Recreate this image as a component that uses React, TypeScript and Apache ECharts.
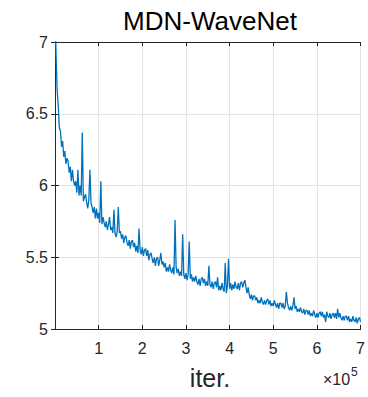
import React, { useEffect, useRef } from "react";
import * as echarts from "echarts";

const TITLE = "MDN-WaveNet";
const X_NAME = "iter.";
const X_MIN = 0;
const X_MAX = 700000;
const X_INTERVAL = 100000;
const Y_MIN = 5;
const Y_MAX = 7;
const Y_INTERVAL = 0.5;
const ITER_STEP = 2500;

const loss = [
  7.30, 6.90, 6.66, 6.55, 6.40, 6.38, 6.27, 6.31, 6.20, 6.24,
  6.15, 6.19, 6.17, 6.09, 6.13, 6.03, 6.11, 6.03, 6.00, 6.03,
  5.95, 6.11, 5.93, 6.00, 5.93, 6.37, 5.89, 5.92, 5.94, 5.88,
  5.84, 5.90, 6.11, 5.88, 5.85, 5.81, 5.85, 5.77, 5.84, 5.77,
  5.81, 5.74, 6.03, 5.73, 5.78, 5.74, 5.71, 5.75, 5.69, 5.73,
  5.78, 5.69, 5.71, 5.67, 5.83, 5.67, 5.64, 5.68, 5.85, 5.67,
  5.68, 5.63, 5.66, 5.60, 5.64, 5.65, 5.60, 5.58, 5.62, 5.56,
  5.61, 5.62, 5.57, 5.60, 5.54, 5.58, 5.53, 5.70, 5.55, 5.52,
  5.57, 5.51, 5.55, 5.56, 5.51, 5.55, 5.48, 5.52, 5.53, 5.49,
  5.46, 5.50, 5.44, 5.49, 5.50, 5.44, 5.48, 5.53, 5.45, 5.47,
  5.43, 5.46, 5.40, 5.43, 5.40, 5.45, 5.41, 5.39, 5.43, 5.38,
  5.76, 5.43, 5.39, 5.42, 5.37, 5.40, 5.37, 5.66, 5.38, 5.35,
  5.39, 5.34, 5.38, 5.61, 5.35, 5.38, 5.33, 5.36, 5.33, 5.37,
  5.33, 5.31, 5.35, 5.30, 5.35, 5.36, 5.32, 5.35, 5.30, 5.33,
  5.30, 5.44, 5.31, 5.29, 5.33, 5.28, 5.32, 5.33, 5.29, 5.36,
  5.27, 5.30, 5.27, 5.32, 5.28, 5.26, 5.46, 5.25, 5.30, 5.49,
  5.28, 5.32, 5.27, 5.31, 5.28, 5.33, 5.29, 5.28, 5.32, 5.27,
  5.32, 5.33, 5.29, 5.32, 5.34, 5.29, 5.25, 5.29, 5.24, 5.21,
  5.24, 5.20, 5.23, 5.23, 5.20, 5.22, 5.18, 5.20, 5.18, 5.22,
  5.19, 5.17, 5.20, 5.17, 5.20, 5.21, 5.17, 5.20, 5.16, 5.18,
  5.16, 5.20, 5.17, 5.15, 5.18, 5.14, 5.18, 5.18, 5.15, 5.18,
  5.14, 5.16, 5.26, 5.18, 5.15, 5.13, 5.16, 5.13, 5.16, 5.22,
  5.14, 5.16, 5.12, 5.14, 5.12, 5.15, 5.12, 5.11, 5.14, 5.10,
  5.13, 5.13, 5.10, 5.13, 5.09, 5.11, 5.09, 5.13, 5.10, 5.08,
  5.11, 5.08, 5.11, 5.12, 5.09, 5.12, 5.08, 5.10, 5.05, 5.12,
  5.09, 5.08, 5.11, 5.07, 5.10, 5.11, 5.08, 5.11, 5.07, 5.14,
  5.08, 5.11, 5.08, 5.06, 5.09, 5.06, 5.09, 5.09, 5.06, 5.09,
  5.05, 5.07, 5.05, 5.09, 5.06, 5.05, 5.08, 5.04, 5.07, 5.08,
  5.05,
];

const FONT = "'Liberation Sans', Arial, Helvetica, sans-serif";
const TEXT = "#262626";
const LINE = "#0072BD";
const GRIDC = "#e3e3e3";

export default function App() {
  const ref = useRef<HTMLDivElement>(null);
  useEffect(() => {
    if (!ref.current) return;
    const chart = echarts.init(ref.current, undefined, { renderer: "svg" });
    const data = loss.map((v, i) => [i * ITER_STEP, v]);
    const tickStyle = { show: true, inside: true, length: 4, lineStyle: { color: TEXT, width: 1 } };
    const lineStyle = { show: true, lineStyle: { color: TEXT, width: 1 } };
    chart.setOption({
      animation: false,
      backgroundColor: "#ffffff",
      grid: { left: 55, right: 3, top: 42, bottom: 68, containLabel: false },
      xAxis: [
        {
          type: "value",
          min: X_MIN,
          max: X_MAX,
          interval: X_INTERVAL,
          position: "bottom",
          axisLine: lineStyle,
          axisTick: tickStyle,
          splitLine: { show: true, lineStyle: { color: GRIDC, width: 1 } },
          axisLabel: {
            show: true,
            margin: 11,
            color: TEXT,
            fontFamily: FONT,
            fontSize: 16,
            formatter: (v: number) => (v === 0 ? "" : String(v / 100000)),
          },
        },
        {
          type: "value",
          min: X_MIN,
          max: X_MAX,
          interval: X_INTERVAL,
          position: "top",
          axisLine: lineStyle,
          axisTick: tickStyle,
          splitLine: { show: false },
          axisLabel: { show: false },
        },
      ],
      yAxis: [
        {
          type: "value",
          min: Y_MIN,
          max: Y_MAX,
          interval: Y_INTERVAL,
          position: "left",
          axisLine: lineStyle,
          axisTick: tickStyle,
          splitLine: { show: true, lineStyle: { color: GRIDC, width: 1 } },
          axisLabel: {
            show: true,
            margin: 7,
            color: TEXT,
            fontFamily: FONT,
            fontSize: 16,
            formatter: (v: number) => String(v),
          },
        },
        {
          type: "value",
          min: Y_MIN,
          max: Y_MAX,
          interval: Y_INTERVAL,
          position: "right",
          axisLine: lineStyle,
          axisTick: tickStyle,
          splitLine: { show: false },
          axisLabel: { show: false },
        },
      ],
      series: [
        {
          type: "line",
          data,
          xAxisIndex: 0,
          yAxisIndex: 0,
          showSymbol: false,
          symbol: "none",
          clip: true,
          lineStyle: { color: LINE, width: 1.3 },
        },
      ],
      graphic: [
        {
          type: "text",
          x: 210,
          y: 20.5,
          style: {
            text: TITLE,
            fontFamily: FONT,
            fontSize: 26,
            fill: "#000000",
            textAlign: "center",
            textVerticalAlign: "middle",
          },
        },
        {
          type: "text",
          x: 210,
          y: 378,
          style: {
            text: X_NAME,
            fontFamily: FONT,
            fontSize: 25,
            fill: TEXT,
            textAlign: "center",
            textVerticalAlign: "middle",
          },
        },
        {
          type: "text",
          x: 323,
          y: 379,
          style: {
            text: "×10",
            fontFamily: FONT,
            fontSize: 16,
            fill: TEXT,
            textAlign: "left",
            textVerticalAlign: "middle",
          },
        },
        {
          type: "text",
          x: 351,
          y: 372,
          style: {
            text: "5",
            fontFamily: FONT,
            fontSize: 12,
            fill: TEXT,
            textAlign: "left",
            textVerticalAlign: "middle",
          },
        },
      ],
    });
    return () => chart.dispose();
  }, []);
  return <div ref={ref} style={{ width: 368, height: 397, position: "absolute", left: 0, top: 0 }} />;
}
